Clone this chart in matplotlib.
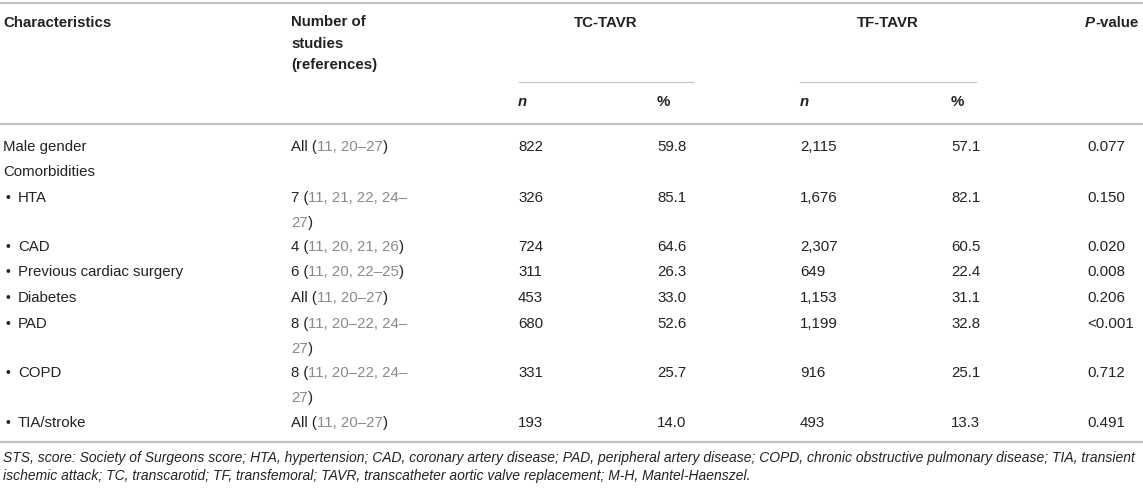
import matplotlib
matplotlib.use("Agg")
import matplotlib.pyplot as plt

plt.rcParams["font.family"] = ["Liberation Sans", "DejaVu Sans"]

# DATA
characteristics = ["Male gender", "Comorbidities", "HTA", "CAD",
                   "Previous cardiac surgery", "Diabetes", "PAD", "COPD",
                   "TIA/stroke"]
is_sub = [False, False, True, True, True, True, True, True, True]
study_refs = ["All (11, 20–27)", "", "7 (11, 21, 22, 24–\n27)",
              "4 (11, 20, 21, 26)", "6 (11, 20, 22–25)", "All (11, 20–27)",
              "8 (11, 20–22, 24–\n27)", "8 (11, 20–22, 24–\n27)",
              "All (11, 20–27)"]
tc_n   = ["822", "", "326", "724", "311", "453", "680", "331", "193"]
tc_pct = ["59.8", "", "85.1", "64.6", "26.3", "33.0", "52.6", "25.7", "14.0"]
tf_n   = ["2,115", "", "1,676", "2,307", "649", "1,153", "1,199", "916", "493"]
tf_pct = ["57.1", "", "82.1", "60.5", "22.4", "31.1", "32.8", "25.1", "13.3"]
p_values = ["0.077", "", "0.150", "0.020", "0.008", "0.206", "<0.001",
            "0.712", "0.491"]
footnote = ("STS, score: Society of Surgeons score; HTA, hypertension; CAD, coronary "
            "artery disease; PAD, peripheral artery disease; COPD, chronic obstructive "
            "pulmonary disease; TIA, transient\nischemic attack; TC, transcarotid; "
            "TF, transfemoral; TAVR, transcatheter aortic valve replacement; M-H, "
            "Mantel-Haenszel.")

# LAYOUT (pixels)
W, H = 1143, 490
row_y = [147, 172, 198, 247, 272, 298, 324, 373, 423]
line_gap = 24.5
X_CHAR, X_REF = 3, 291
X_COLS = [518, 657, 800, 951, 1087]
TXT = "#222222"
REF = "#8a8a8a"
RULE = "#c4c4c4"
FS = 10.8

fig = plt.figure(figsize=(W / 100, H / 100), dpi=100)
ax = fig.add_axes([0, 0, 1, 1])
ax.set_xlim(0, W)
ax.set_ylim(H, 0)
ax.axis("off")

# rules
for y in (3, 124, 442):
    ax.plot([0, W], [y, y], color=RULE, lw=1.6, solid_capstyle="butt")
ax.plot([519, 693], [82, 82], color=RULE, lw=0.9)
ax.plot([800, 976], [82, 82], color=RULE, lw=0.9)

# header
ax.text(X_CHAR, 23, "Characteristics", fontsize=FS, fontweight="bold",
        color=TXT, va="center")
for k, part in enumerate(["Number of", "studies", "(references)"]):
    ax.text(X_REF, 22 + k * 21.5, part, fontsize=FS, fontweight="bold",
            color=TXT, va="center", ha="left")
ax.text(606, 23, "TC-TAVR", fontsize=FS, fontweight="bold", color=TXT,
        ha="center", va="center")
ax.text(888, 23, "TF-TAVR", fontsize=FS, fontweight="bold", color=TXT,
        ha="center", va="center")
pv = ax.text(1085, 23, "P", fontsize=FS, fontweight="bold", style="italic",
             color=TXT, va="center")
ax.annotate("-value", xy=(1, 0), xycoords=pv, fontsize=FS, fontweight="bold",
            color=TXT, va="bottom", ha="left")
for x, lab in zip(X_COLS[:4], ["n", "%", "n", "%"]):
    ax.text(x, 102, lab, fontsize=FS, fontweight="bold", color=TXT,
            va="center", style="italic" if lab == "n" else "normal")


def draw_refs(x, y, text):
    """Draw reference text: numbers inside brackets in grey."""
    inside = False
    for k, line in enumerate(text.split("\n")):
        segs = []
        for ch in line:
            if ch == "(":
                col = TXT
            elif ch == ")":
                col = TXT
                inside = False
            else:
                col = REF if inside else TXT
            if segs and segs[-1][1] == col:
                segs[-1][0] += ch
            else:
                segs.append([ch, col])
            if ch == "(":
                inside = True
        prev = None
        for s, col in segs:
            if prev is None:
                prev = ax.text(x, y + k * line_gap, s, fontsize=FS, color=col,
                               va="center", ha="left")
            else:
                prev = ax.annotate(s, xy=(1, 0), xycoords=prev, fontsize=FS,
                                   color=col, va="bottom", ha="left")


for i, name in enumerate(characteristics):
    y = row_y[i]
    if is_sub[i]:
        ax.text(5, y, "•", fontsize=FS - 1, color=TXT, va="center")
        ax.text(18, y, name, fontsize=FS, color=TXT, va="center")
    else:
        ax.text(X_CHAR, y, name, fontsize=FS, color=TXT, va="center")
    if study_refs[i]:
        draw_refs(X_REF, y, study_refs[i])
    for x, val in zip(X_COLS, [tc_n[i], tc_pct[i], tf_n[i], tf_pct[i], p_values[i]]):
        ax.text(x, y, val, fontsize=FS, color=TXT, va="center")

ax.text(X_CHAR, 451, footnote, fontsize=10, style="italic", color=TXT,
        va="top", linespacing=1.32)

fig.savefig("out.png", dpi=100)
